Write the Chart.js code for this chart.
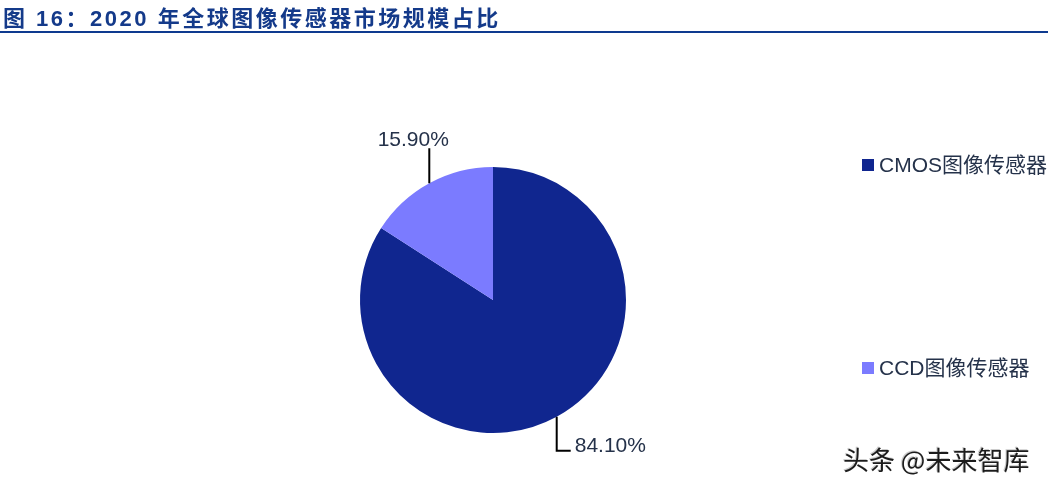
<!DOCTYPE html>
<html>
<head>
<meta charset="utf-8">
<script src="https://cdn.jsdelivr.net/npm/chart.js"></script>
<style>
  body { margin: 0; background: #fff; }
  #wrap { position: relative; width: 1048px; height: 489px; overflow: hidden; }
  #title {
    position: absolute; left: 3px; top: 0px; line-height: 24px;
    font: bold 22px "Liberation Sans", "Noto Sans CJK SC", sans-serif;
    letter-spacing: 2.5px; color: #143a8a; white-space: nowrap;
  }
  #rule { position: absolute; left: 0; top: 31px; width: 1048px; height: 2px; background: #0e3a8f; }
  #mark {
    position: absolute; left: 843px; top: 440px; line-height: 32px;
    font: 26px "Noto Sans CJK SC", sans-serif; color: #1c1c1c; white-space: nowrap;
    text-shadow: 1px 1px 0 #fff, -1px -1px 0 #ccc;
  }
  canvas { position: absolute; left: 0; top: 0; }
</style>
</head>
<body>
<div id="wrap">
  <canvas id="pie" width="1048" height="489"></canvas>
  <div id="title">图 16：2020 年全球图像传感器市场规模占比</div>
  <div id="rule"></div>
  <div id="mark">头条 @未来智库</div>
</div>
<script>
// 2020 global image sensor market share (%)
var categories = ["CMOS图像传感器", "CCD图像传感器"];
var shares = [84.10, 15.90];
var colors = ["#10268f", "#7b7bff"];

var TEXT_COLOR = "#25324a";
var TEXT_FONT = '21px "Liberation Sans", "Noto Sans CJK SC", sans-serif';

// percentage labels with leader lines from the middle of each slice
var sliceLabels = {
  id: "sliceLabels",
  afterDatasetsDraw: function (chart) {
    var ctx = chart.ctx;
    var arcs = chart.getDatasetMeta(0).data;
    ctx.save();
    ctx.font = TEXT_FONT;
    ctx.strokeStyle = "#000";
    ctx.lineWidth = 2;
    ctx.fillStyle = TEXT_COLOR;
    arcs.forEach(function (arc, i) {
      var mid = (arc.startAngle + arc.endAngle) / 2;
      var px = arc.x + Math.cos(mid) * arc.outerRadius;
      var py = arc.y + Math.sin(mid) * arc.outerRadius;
      var text = shares[i].toFixed(2) + "%";
      ctx.beginPath();
      if (py < arc.y) {
        var topY = py - 35;
        ctx.moveTo(px, py);
        ctx.lineTo(px, topY);
        ctx.stroke();
        ctx.textAlign = "center";
        ctx.textBaseline = "alphabetic";
        ctx.fillText(text, px - 16, topY - 2);
      } else {
        var botY = py + 34;
        ctx.moveTo(px, py);
        ctx.lineTo(px, botY);
        ctx.lineTo(px + 14, botY);
        ctx.stroke();
        ctx.textAlign = "left";
        ctx.textBaseline = "alphabetic";
        ctx.fillText(text, px + 18, botY + 1);
      }
    });
    ctx.restore();
  }
};

// legend on the right, items spread vertically like the source
var sideLegend = {
  id: "sideLegend",
  afterDraw: function (chart) {
    var ctx = chart.ctx;
    var rows = [165, 368];
    ctx.save();
    ctx.font = TEXT_FONT;
    ctx.textAlign = "left";
    ctx.textBaseline = "middle";
    categories.forEach(function (name, i) {
      ctx.fillStyle = colors[i];
      ctx.fillRect(862, rows[i] - 6, 12, 12);
      ctx.fillStyle = TEXT_COLOR;
      ctx.fillText(name, 879, rows[i] + 1);
    });
    ctx.restore();
  }
};

new Chart(document.getElementById("pie").getContext("2d"), {
  type: "pie",
  data: {
    labels: categories,
    datasets: [{
      data: shares,
      backgroundColor: colors,
      borderWidth: 0
    }]
  },
  options: {
    responsive: false,
    animation: false,
    devicePixelRatio: 1,
    layout: { padding: { left: 360, right: 422, top: 167, bottom: 56 } },
    plugins: {
      legend: { display: false },
      tooltip: { enabled: false }
    }
  },
  plugins: [sliceLabels, sideLegend]
});
</script>
</body>
</html>
